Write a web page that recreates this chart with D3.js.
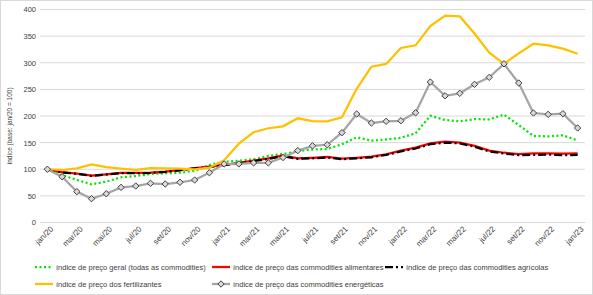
<!DOCTYPE html>
<html>
<head>
<meta charset="utf-8">
<script src="https://cdn.jsdelivr.net/npm/d3@7"></script>
<style>
  body { margin: 0; background: #fff; }
  text { font-family: "Liberation Sans", Arial, sans-serif; fill: #404040; }
</style>
</head>
<body>
<script>
var months = ["jan","fev","mar","abr","mai","jun","jul","ago","set","out","nov","dez"];
var labels = [];
[20, 21, 22].forEach(function(y){ months.forEach(function(m){ labels.push(m + "/" + y); }); });
labels.push("jan/23");

var yTicks = [0, 50, 100, 150, 200, 250, 300, 350, 400];

var geral = [100,89,80,71.7,76.7,84.8,87.3,91,92.4,93.5,97,108,114,116,118.7,125,128.6,134,137,138,146.8,160,153.6,156,159,167.5,200.6,192.5,190,194,193.8,202.5,183,162.4,161.8,163.7,154];
var alimentares = [100,94.8,92,88,90.5,93,93,93.5,95.4,98.6,102,104.8,108,112,116,120.5,126,120.5,121.5,123,120,121.5,123.6,128,134.8,140.5,148.7,151.8,150,144,135,131,128.6,130,130,129.3,130];
var agricolas = [100,94,91.5,87.5,90,92.5,92.5,93,95,98,101.5,104,107.5,111,115,119.5,124.5,119.5,120.5,122,119,120.5,122.5,127,133.5,139,147,150,148.5,142.5,133.5,129.5,126.5,127,127.5,126.5,127];
var fertilizantes = [100,98.6,101.7,109,104,101,99,102,101.7,101,100,103,117,148,169.4,177,180.6,195.7,190.6,190,197.5,251,292.6,297.7,327.7,332.7,369,388.4,387,355,319,298,317.7,335.8,332.7,326.4,317];
var energeticas = [100,86,58,44.7,54,66,68.5,73.6,72.3,75.5,79.8,93.5,110,110,112,112,122,135,144,146,168.7,203.8,186.9,190,191,206,263.8,238,242.6,259.5,272.6,298,262,205.6,203,204.3,177.5];

var svg = d3.select("body").append("svg")
    .attr("width", 593)
    .attr("height", 295);

svg.append("rect")
    .attr("x", 0.5).attr("y", 0.5)
    .attr("width", 592).attr("height", 294)
    .attr("fill", "#fff")
    .attr("stroke", "#d9d9d9");

var x = d3.scalePoint().domain(labels).range([40, 585]).padding(0.5);
var y = d3.scaleLinear().domain([0, 400]).range([222.5, 9.5]);

// gridlines
svg.append("g").selectAll("line")
    .data(yTicks)
    .enter().append("line")
    .attr("x1", 40).attr("x2", 585)
    .attr("y1", function(d){ return y(d); })
    .attr("y2", function(d){ return y(d); })
    .attr("stroke", "#d9d9d9")
    .attr("stroke-width", 1);

// y axis
var yAxis = svg.append("g")
    .attr("transform", "translate(36,0)")
    .call(d3.axisLeft(y).tickValues(yTicks).tickSize(0).tickPadding(0));
yAxis.select(".domain").remove();
yAxis.selectAll("text").style("font-size", "7.5px").attr("fill", "#404040");

// x axis
var xAxis = svg.append("g")
    .attr("transform", "translate(0,222.5)")
    .call(d3.axisBottom(x).tickValues(labels.filter(function(d, i){ return i % 2 === 0; })).tickSize(0));
xAxis.select(".domain").remove();
xAxis.selectAll("text")
    .style("font-size", "8px")
    .attr("fill", "#404040")
    .attr("text-anchor", "end")
    .attr("transform", "translate(4,5) rotate(-45)")
    .attr("dy", "0.35em")
    .attr("y", 0).attr("x", 0);

svg.append("text")
    .attr("transform", "translate(12,126) rotate(-90)")
    .attr("text-anchor", "middle")
    .style("font-size", "6.5px")
    .text("índice (base: jan/20 = 100)");

var line = d3.line()
    .x(function(d, i){ return x(labels[i]); })
    .y(function(d){ return y(d); });

svg.append("path").datum(geral)
    .attr("d", line).attr("fill", "none")
    .attr("stroke", "#00e600").attr("stroke-width", 2.25)
    .attr("stroke-dasharray", "2,2.5");
svg.append("path").datum(alimentares)
    .attr("d", line).attr("fill", "none")
    .attr("stroke", "#ff0000").attr("stroke-width", 2.25);
svg.append("path").datum(agricolas)
    .attr("d", line).attr("fill", "none")
    .attr("stroke", "#000").attr("stroke-width", 2.25)
    .attr("stroke-dasharray", "8,3,2,3");
svg.append("path").datum(fertilizantes)
    .attr("d", line).attr("fill", "none")
    .attr("stroke", "#ffc000").attr("stroke-width", 2.25);
svg.append("path").datum(energeticas)
    .attr("d", line).attr("fill", "none")
    .attr("stroke", "#a5a5a5").attr("stroke-width", 2.25);

var diamond = d3.symbol().type(d3.symbolDiamond2).size(26);
svg.append("g").selectAll("path")
    .data(energeticas)
    .enter().append("path")
    .attr("d", diamond)
    .attr("transform", function(d, i){ return "translate(" + x(labels[i]) + "," + y(d) + ")"; })
    .attr("fill", "#d9d9d9")
    .attr("stroke", "#404040")
    .attr("stroke-width", 1);

// legend
var legend = [
    {name: "índice de preço geral (todas as commodities)", color: "#00e600", dash: "2,2.5", lx: 35, ly: 267},
    {name: "índice de preço das commodities alimentares", color: "#ff0000", dash: null, lx: 212, ly: 267},
    {name: "índice de preço das commodities agrícolas", color: "#000", dash: "8,3,2,3", lx: 385, ly: 267},
    {name: "índice de preço dos fertilizantes", color: "#ffc000", dash: null, lx: 35, ly: 284},
    {name: "índice de preço das commodities energéticas", color: "#a5a5a5", dash: null, lx: 212, ly: 284, marker: true}
];
legend.forEach(function(l){
    svg.append("line")
        .attr("x1", l.lx).attr("x2", l.lx + 18)
        .attr("y1", l.ly).attr("y2", l.ly)
        .attr("stroke", l.color).attr("stroke-width", 2.25)
        .attr("stroke-dasharray", l.dash);
    if (l.marker) {
        svg.append("path")
            .attr("d", diamond)
            .attr("transform", "translate(" + (l.lx + 9) + "," + l.ly + ")")
            .attr("fill", "#d9d9d9").attr("stroke", "#404040").attr("stroke-width", 1);
    }
    svg.append("text")
        .attr("x", l.lx + 21).attr("y", l.ly)
        .attr("dy", "0.35em")
        .style("font-size", "7.5px")
        .text(l.name);
});
</script>
</body>
</html>
